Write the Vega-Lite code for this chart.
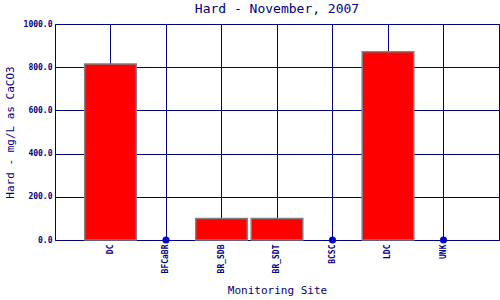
{
  "$schema": "https://vega.github.io/schema/vega-lite/v6.json",
  "autosize": "none",
  "width": 444,
  "height": 216,
  "padding": {"left": 55, "top": 24, "right": 1, "bottom": 60},
  "background": "white",
  "title": {"text": "Hard - November, 2007", "font": "DejaVu Sans Mono", "fontSize": 13, "fontWeight": "normal", "color": "#000080", "offset": 4},
  "config": {
    "view": {"stroke": "#000080", "strokeWidth": 1},
    "axis": {"labelFont": "DejaVu Sans Mono", "titleFont": "DejaVu Sans Mono", "labelColor": "#000080", "titleColor": "#000080", "gridColor": "#000080", "gridOpacity": 1, "gridWidth": 1, "domain": false, "ticks": false, "titleFontWeight": "normal", "titleFontSize": 11}
  },
  "data": {"values": [
    {"site": "DC", "hard": 815},
    {"site": "BFCaBR", "hard": 0},
    {"site": "BR_SDB", "hard": 100},
    {"site": "BR_SDT", "hard": 100},
    {"site": "BCSC", "hard": 0},
    {"site": "LDC", "hard": 871},
    {"site": "UNK", "hard": 0}
  ]},
  "encoding": {
    "x": {"field": "site", "type": "nominal", "sort": ["DC", "BFCaBR", "BR_SDB", "BR_SDT", "BCSC", "LDC", "UNK"],
      "scale": {"domain": ["DC", "BFCaBR", "BR_SDB", "BR_SDT", "BCSC", "LDC", "UNK"], "paddingInner": 0, "paddingOuter": 0.5},
      "axis": {"title": "Monitoring Site", "labelAngle": -90, "labelFontSize": 8, "labelFontWeight": "bold", "labelPadding": 4, "titlePadding": 12, "grid": true}},
    "y": {"field": "hard", "type": "quantitative",
      "scale": {"domain": [0, 1000], "nice": false},
      "axis": {"title": "Hard - mg/L as CaCO3", "format": ".1f", "values": [0, 200, 400, 600, 800, 1000], "labelFontSize": 8, "labelFontWeight": "bold", "labelPadding": 3, "titlePadding": 8, "grid": true}}
  },
  "layer": [
    {"transform": [{"filter": "datum.hard > 0"}],
     "mark": {"type": "bar", "color": "#FF0000", "stroke": "#808080", "strokeWidth": 1.5, "width": {"band": 0.93}}},
    {"transform": [{"filter": "datum.hard == 0"}],
     "mark": {"type": "point", "filled": true, "color": "#0000CC", "size": 50, "opacity": 1, "clip": false}}
  ]
}
